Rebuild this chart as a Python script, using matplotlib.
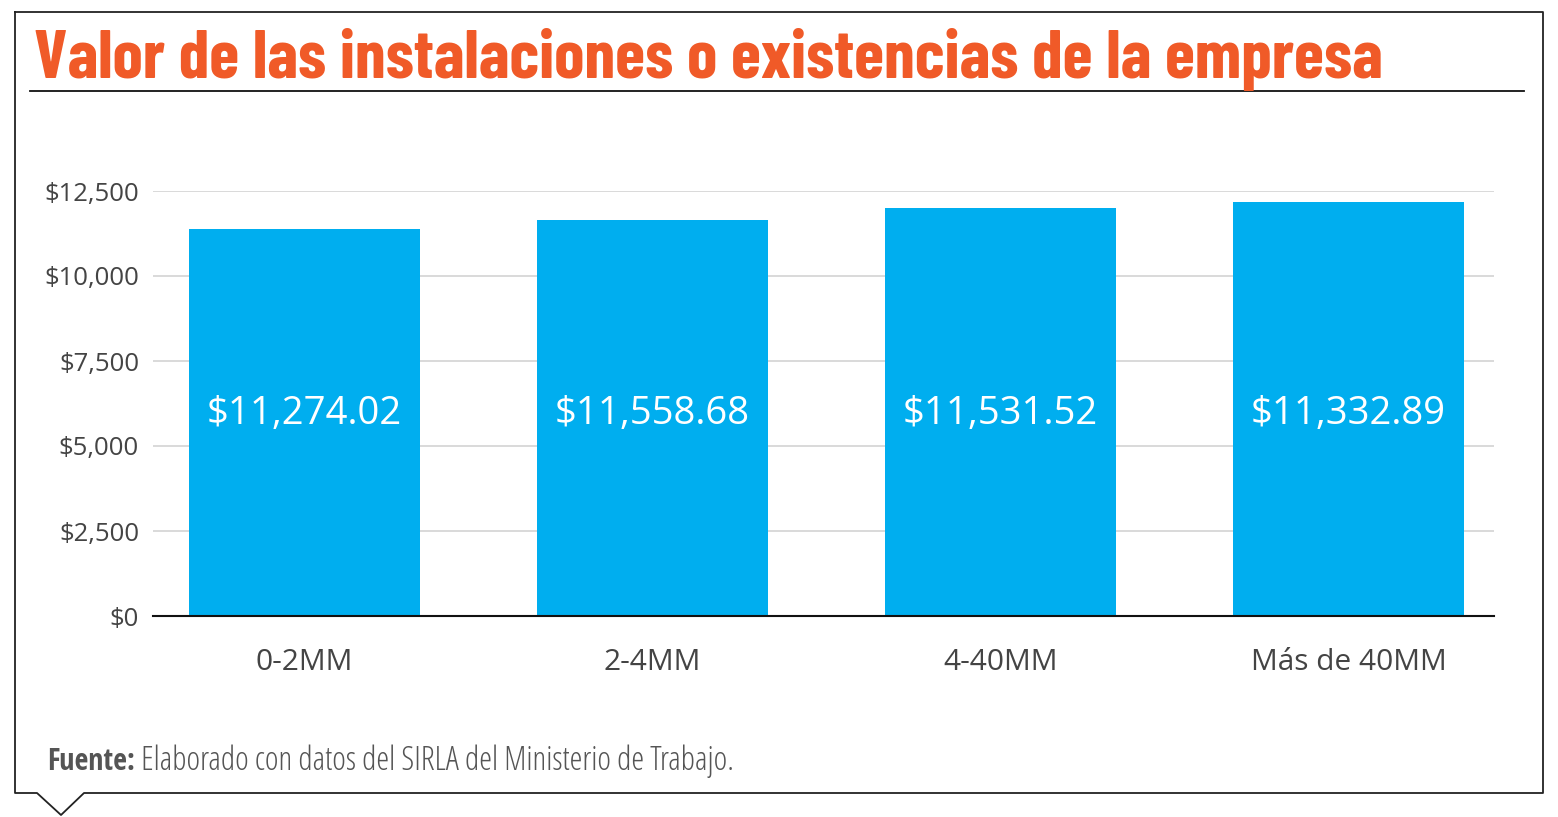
import matplotlib
matplotlib.use("Agg")
import matplotlib.pyplot as plt
from matplotlib import font_manager
from matplotlib.font_manager import FontProperties
from matplotlib.lines import Line2D

categories = ["0-2MM", "2-4MM", "4-40MM", "Más de 40MM"]
bar_heights = [11390, 11655, 12010, 12185]
value_labels = ["$11,274.02", "$11,558.68", "$11,531.52", "$11,332.89"]
y_ticks = [0, 2500, 5000, 7500, 10000, 12500]
y_tick_labels = ["$0", "$2,500", "$5,000", "$7,500", "$10,000", "$12,500"]

title = "Valor de las instalaciones o existencias de la empresa"
source_bold = "Fuente:"
source_text = " Elaborado con datos del SIRLA del Ministerio de Trabajo."

names = {f.name for f in font_manager.fontManager.ttflist}


def pick(*cands):
    for c in cands:
        if c in names:
            return c
    return "DejaVu Sans"


title_font = pick("Barlow Condensed", "Fjalla One", "Roboto Condensed", "Oswald")
foot_bold_font = pick("Open Sans Condensed", "Roboto Condensed", "IBM Plex Sans Condensed")

bar_color = "#00AEEF"
title_color = "#F05A28"
text_grey = "#444444"

W, H = 1558, 817
fig = plt.figure(figsize=(W / 100, H / 100), dpi=100)


def fx(px):
    return px / W


def fy(py):
    return 1 - py / H


# outer frame with the little pointer at bottom left
frame = [(15, 12), (1543, 12), (1543, 793), (84, 793), (61, 815), (37, 793), (15, 793), (15, 12)]
fig.add_artist(Line2D([fx(p[0]) for p in frame], [fy(p[1]) for p in frame],
                      color="#222222", lw=1.3, transform=fig.transFigure))

# title and rule under it
t = fig.text(fx(34), fy(78), title, color=title_color, fontsize=44,
             fontfamily=title_font, fontweight="bold", ha="left", va="baseline")
fig.canvas.draw()
w = t.get_window_extent(fig.canvas.get_renderer()).width
t.set_fontsize(44 * 1350 / w)
fig.add_artist(Line2D([fx(30), fx(1524)], [fy(91), fy(91)], color="#111111", lw=1.3,
                      transform=fig.transFigure))

# chart area
ax = fig.add_axes([fx(153), fy(616), fx(1494) - fx(153), fy(191) - fy(616)])
x = list(range(len(categories)))
ax.bar(x, bar_heights, width=0.664, color=bar_color, zorder=2)
ax.set_xlim(-0.435, 3.418)
ax.set_ylim(0, 12500)
ax.set_yticks(y_ticks)
ax.set_yticklabels(y_tick_labels, fontsize=18.5, color=text_grey, fontfamily="Open Sans")
ax.set_xticks(x)
ax.set_xticklabels(categories, fontsize=21.5, color=text_grey, fontfamily="Open Sans")
ax.tick_params(axis="y", length=0, pad=10)
ax.tick_params(axis="x", length=0, pad=23)
ax.grid(True, axis="y", color="#d9d9d9", lw=1.4, zorder=0)
ax.set_axisbelow(True)
for s in ["top", "right", "left"]:
    ax.spines[s].set_visible(False)
ax.spines["bottom"].set_color("#111111")
ax.spines["bottom"].set_linewidth(1.5)
ax.spines["bottom"].set_zorder(3)
ax.patch.set_alpha(0)

for xi, lab in zip(x, value_labels):
    ax.text(xi, 5950, lab, ha="center", va="center", color="white", fontsize=27.5,
            fontfamily="Open Sans", zorder=4)

# source line
sb = fig.text(fx(47), fy(770), source_bold, fontsize=21.5, fontfamily=foot_bold_font,
              fontweight="bold", color="#555555", ha="left", va="baseline")
fig.canvas.draw()
bb = sb.get_window_extent(fig.canvas.get_renderer())
light = FontProperties(family="Open Sans", stretch="condensed", weight=300, size=23.5)
fig.text(bb.x1 / W, fy(770), source_text, fontproperties=light,
         color="#555555", ha="left", va="baseline")

fig.savefig("out.png", dpi=100)
